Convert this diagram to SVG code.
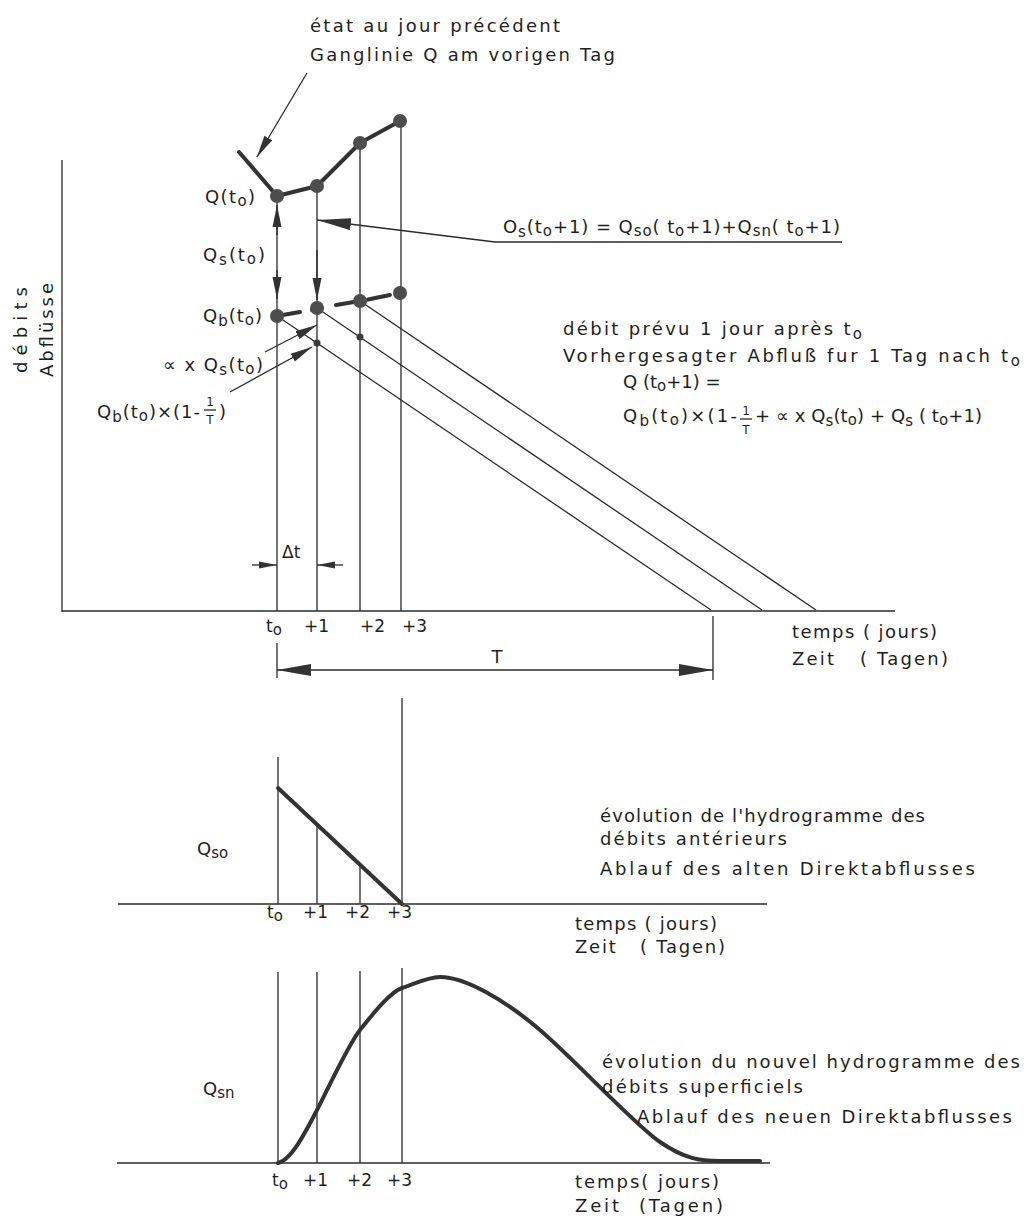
<svg xmlns="http://www.w3.org/2000/svg" width="1026" height="1218" viewBox="0 0 1026 1218">
<style>
.ln{stroke:#2a2a2a;stroke-width:1.3;fill:none}
.thick{stroke:#333;stroke-width:4;fill:none;stroke-linecap:round;stroke-linejoin:round}
.dot{fill:#4d4d4d}
.sdot{fill:#3a3a3a}
text{font-family:"DejaVu Sans","Liberation Sans",sans-serif;font-size:18px;fill:#1e1e1e}
.sb{font-size:15px}
.tk{font-size:17px}
.fr{font-size:12px}
</style>
<defs>
<marker id="m-lg" markerUnits="userSpaceOnUse" markerWidth="34" markerHeight="12" refX="34" refY="6" orient="auto-start-reverse"><path d="M0,0 L34,6 L0,12 z" fill="#333"/></marker>
<marker id="m-md" markerUnits="userSpaceOnUse" markerWidth="22" markerHeight="10" refX="22" refY="5" orient="auto"><path d="M0,0.5 L22,5 L0,9.5 z" fill="#333"/></marker>
<marker id="m-sm" markerUnits="userSpaceOnUse" markerWidth="18" markerHeight="8" refX="18" refY="4" orient="auto"><path d="M0,0.5 L18,4 L0,7.5 z" fill="#333"/></marker>
</defs>
<rect width="1026" height="1218" fill="#fff"/>

<g id="chart-top">
<line class="ln" x1="62" y1="160" x2="62" y2="612"/>
<line class="ln" x1="62" y1="611" x2="895" y2="611"/>
<line class="ln" x1="277" y1="196" x2="277" y2="611"/>
<line class="ln" x1="317" y1="186" x2="317" y2="611"/>
<line class="ln" x1="360" y1="143" x2="360" y2="611"/>
<line class="ln" x1="401" y1="121" x2="401" y2="611"/>
<line class="ln" x1="277" y1="316" x2="711" y2="610"/>
<line class="ln" x1="317" y1="308" x2="762" y2="610"/>
<line class="ln" x1="360" y1="301" x2="816" y2="610"/>
<polyline class="thick" points="239,152 277,196 317,186 360,143 400,121"/>
<g class="thick">
<line x1="277" y1="316" x2="300" y2="312"/>
<line x1="312" y1="310" x2="322" y2="308"/>
<line x1="336" y1="305" x2="360" y2="301"/>
<line x1="368" y1="299.5" x2="390" y2="295"/>
</g>
<circle class="dot" cx="277" cy="196" r="7"/>
<circle class="dot" cx="317" cy="186" r="7"/>
<circle class="dot" cx="360" cy="143" r="7"/>
<circle class="dot" cx="400" cy="121" r="7"/>
<circle class="dot" cx="277" cy="316" r="7"/>
<circle class="dot" cx="317" cy="308" r="7"/>
<circle class="dot" cx="360" cy="301" r="7"/>
<circle class="dot" cx="400" cy="293" r="7"/>
<circle class="sdot" cx="317" cy="343" r="3.5"/>
<circle class="sdot" cx="360" cy="337" r="3.5"/>
<line class="ln" x1="277" y1="643" x2="277" y2="678"/>
<line class="ln" x1="713" y1="616" x2="713" y2="680"/>
</g>

<g id="chart-mid">
<line class="ln" x1="118" y1="904" x2="767" y2="904"/>
<line class="ln" x1="278" y1="757" x2="278" y2="904"/>
<line class="ln" x1="317" y1="823" x2="317" y2="904"/>
<line class="ln" x1="360" y1="865" x2="360" y2="904"/>
<line class="ln" x1="402" y1="698" x2="402" y2="904"/>
<line class="thick" x1="278" y1="788" x2="402" y2="904"/>
</g>

<g id="chart-bottom">
<line class="ln" x1="117" y1="1163" x2="770" y2="1163"/>
<line class="ln" x1="278" y1="972" x2="278" y2="1163"/>
<line class="ln" x1="317" y1="972" x2="317" y2="1163"/>
<line class="ln" x1="360" y1="971" x2="360" y2="1163"/>
<line class="ln" x1="402" y1="968" x2="402" y2="1163"/>
<path class="thick" d="M278,1163 C292,1160 307,1129 317,1110 C327,1091 348,1045 360,1030 C372,1015 390,992 402,988 C414,984 428,977 440,977 C465,977 505,1000 540,1030 C575,1060 635,1125 660,1142 C685,1159 700,1161 720,1161 L760,1161"/>
</g>

<g id="connectors">
<path class="ln" d="M307,73 L257,157" marker-end="url(#m-md)"/>
<path class="ln" d="M277,235 L277,205" marker-end="url(#m-md)"/>
<path class="ln" d="M277,270 L277,299" marker-end="url(#m-md)"/>
<path class="ln" d="M317,250 L317,300" marker-end="url(#m-md)"/>
<path class="ln" d="M842,242 L495,242 L317,220" marker-end="url(#m-lg)"/>
<path class="ln" d="M265,352 L317,325" marker-end="url(#m-md)"/>
<path class="ln" d="M230,392 L312,347" marker-end="url(#m-md)"/>
<path class="ln" d="M252,565 L277,565" marker-end="url(#m-sm)"/>
<path class="ln" d="M343,565 L317,565" marker-end="url(#m-sm)"/>
<path class="ln" d="M277,670 L713,670" marker-start="url(#m-lg)" marker-end="url(#m-lg)"/>
<line class="ln" x1="204" y1="410" x2="216" y2="410"/>
<line class="ln" x1="740" y1="419" x2="752" y2="419"/>
</g>

<g id="labels">
<text x="310" y="32" textLength="250" lengthAdjust="spacing">état au jour précédent</text>
<text x="310" y="61" textLength="305" lengthAdjust="spacing">Ganglinie Q am vorigen Tag</text>
<text x="205" y="203" textLength="50" lengthAdjust="spacing">Q(t<tspan class="sb" dy="3">o</tspan><tspan dy="-3">)</tspan></text>
<text x="203" y="261" textLength="62" lengthAdjust="spacing">Q<tspan class="sb" dy="4">s</tspan><tspan dy="-4">(t</tspan><tspan class="sb" dy="3">o</tspan><tspan dy="-3">)</tspan></text>
<text x="203" y="322" textLength="59" lengthAdjust="spacing">Q<tspan class="sb" dy="4">b</tspan><tspan dy="-4">(t</tspan><tspan class="sb" dy="3">o</tspan><tspan dy="-3">)</tspan></text>
<text x="163" y="371" textLength="100" lengthAdjust="spacing">∝ x Q<tspan class="sb" dy="4">s</tspan><tspan dy="-4">(t</tspan><tspan class="sb" dy="3">o</tspan><tspan dy="-3">)</tspan></text>
<text x="97" y="418" textLength="103" lengthAdjust="spacing">Q<tspan class="sb" dy="4">b</tspan><tspan dy="-4">(t</tspan><tspan class="sb" dy="3">o</tspan><tspan dy="-3">)×(1-</tspan></text>
<text class="fr" x="210" y="406" text-anchor="middle">1</text>
<text class="fr" x="210" y="424" text-anchor="middle">T</text>
<text x="219" y="418">)</text>
<text transform="translate(27,373) rotate(-90)" textLength="86" lengthAdjust="spacing">débits</text>
<text transform="translate(53,377) rotate(-90)" textLength="94" lengthAdjust="spacing">Abflüsse</text>

<text x="503" y="233" textLength="337" lengthAdjust="spacing">O<tspan class="sb" dy="4">s</tspan><tspan dy="-4">(t</tspan><tspan class="sb" dy="3">o</tspan><tspan dy="-3">+1) = Q</tspan><tspan class="sb" dy="3">so</tspan><tspan dy="-3">( t</tspan><tspan class="sb" dy="3">o</tspan><tspan dy="-3">+1)+Q</tspan><tspan class="sb" dy="3">sn</tspan><tspan dy="-3">( t</tspan><tspan class="sb" dy="3">o</tspan><tspan dy="-3">+1)</tspan></text>

<text x="563" y="335" textLength="299" lengthAdjust="spacing">débit prévu 1 jour après t<tspan class="sb" dy="4">o</tspan></text>
<text x="563" y="362" textLength="457" lengthAdjust="spacing">Vorhergesagter Abfluß  fur 1 Tag nach t<tspan class="sb" dy="4">o</tspan></text>
<text x="623" y="388">Q (t<tspan class="sb" dy="3">o</tspan><tspan dy="-3">+1) =</tspan></text>
<text x="623" y="422" textLength="114" lengthAdjust="spacing">Q<tspan class="sb" dy="4">b</tspan><tspan dy="-4">(t</tspan><tspan class="sb" dy="3">o</tspan><tspan dy="-3">)×(1-</tspan></text>
<text class="fr" x="746" y="415" text-anchor="middle">1</text>
<text class="fr" x="746" y="434" text-anchor="middle">T</text>
<text x="755" y="422" textLength="227" lengthAdjust="spacing">+ ∝ x Q<tspan class="sb" dy="4">s</tspan><tspan dy="-4">(t</tspan><tspan class="sb" dy="3">o</tspan><tspan dy="-3">) + Q</tspan><tspan class="sb" dy="4">s</tspan><tspan dy="-4"> ( t</tspan><tspan class="sb" dy="3">o</tspan><tspan dy="-3">+1)</tspan></text>

<text class="tk" x="282" y="558">Δt</text>
<text class="tk" x="266" y="632">t<tspan class="sb" dy="3">o</tspan></text>
<text class="tk" x="304" y="632">+1</text>
<text class="tk" x="360" y="632">+2</text>
<text class="tk" x="402" y="632">+3</text>
<text x="497" y="663" text-anchor="middle">T</text>
<text x="792" y="638" textLength="145" lengthAdjust="spacing" xml:space="preserve">temps ( jours)</text>
<text x="792" y="665" textLength="156" lengthAdjust="spacing" xml:space="preserve">Zeit   ( Tagen)</text>

<text x="197" y="855">Q<tspan class="sb" dy="3">so</tspan></text>
<text class="tk" x="267" y="918">t<tspan class="sb" dy="3">o</tspan></text>
<text class="tk" x="303" y="918">+1</text>
<text class="tk" x="345" y="918">+2</text>
<text class="tk" x="387" y="918">+3</text>
<text x="575" y="930" textLength="142" lengthAdjust="spacing" xml:space="preserve">temps ( jours)</text>
<text x="575" y="953" textLength="150" lengthAdjust="spacing" xml:space="preserve">Zeit   ( Tagen)</text>
<text x="600" y="822" textLength="325" lengthAdjust="spacing">évolution de l'hydrogramme des</text>
<text x="600" y="845" textLength="187" lengthAdjust="spacing">débits antérieurs</text>
<text x="600" y="875" textLength="375" lengthAdjust="spacing">Ablauf des alten Direktabflusses</text>

<text x="203" y="1095">Q<tspan class="sb" dy="3">sn</tspan></text>
<text class="tk" x="272" y="1186">t<tspan class="sb" dy="3">o</tspan></text>
<text class="tk" x="303" y="1186">+1</text>
<text class="tk" x="347" y="1186">+2</text>
<text class="tk" x="387" y="1186">+3</text>
<text x="575" y="1188" textLength="144" lengthAdjust="spacing" xml:space="preserve">temps( jours)</text>
<text x="575" y="1212" textLength="148" lengthAdjust="spacing" xml:space="preserve">Zeit  (Tagen)</text>
<text x="602" y="1068" textLength="418" lengthAdjust="spacing">évolution du nouvel hydrogramme des</text>
<text x="602" y="1093" textLength="201" lengthAdjust="spacing">débits superficiels</text>
<text x="637" y="1123" textLength="375" lengthAdjust="spacing">Ablauf des neuen Direktabflusses</text>
</g>
</svg>
